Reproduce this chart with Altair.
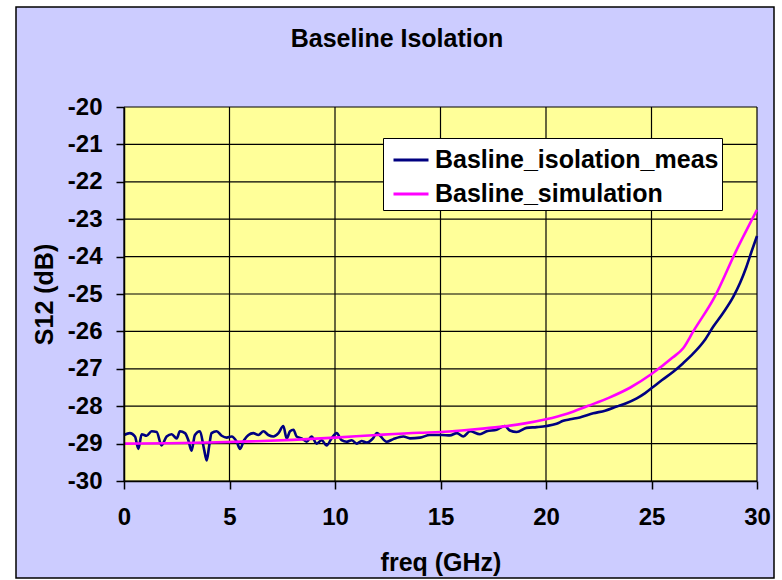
import altair as alt
import pandas as pd

# ---------------- data ----------------
meas_freq = [0.0, 0.28, 0.52, 0.68, 0.84, 1.07, 1.31, 1.55, 1.78, 2.02, 2.26, 2.5, 2.65, 2.89,
             3.05, 3.2, 3.36, 3.6, 3.79, 3.92, 4.04, 4.15, 4.39, 4.63, 4.87, 5.1, 5.34, 5.5,
             5.69, 5.9, 6.13, 6.37, 6.61, 6.84, 7.08, 7.32, 7.55, 7.71, 7.87, 8.03, 8.18, 8.42,
             8.66, 8.89, 9.13, 9.37, 9.6, 9.84, 10.08, 10.31, 10.55, 10.79, 11.03, 11.26, 11.5,
             11.8, 11.98, 12.45, 12.76, 13.24, 13.55, 14.03, 14.5, 15.06, 15.45, 15.77, 16.08,
             16.4, 16.87, 17.19, 17.66, 18.05, 18.29, 18.61, 19.08, 19.56, 20.03, 20.5, 20.82,
             21.14, 21.6, 22.24, 22.8, 23.35, 23.8, 24.3, 24.7, 25.09, 25.5, 26.03, 26.5, 26.98,
             27.5, 27.93, 28.4, 28.88, 29.2, 29.5, 29.75, 30.0]
meas_s12 = [-28.77, -28.72, -28.81, -29.14, -28.75, -28.79, -28.67, -28.69, -29.05, -28.81,
            -28.75, -28.86, -28.67, -28.72, -28.91, -29.19, -28.77, -28.67, -29.14, -29.45,
            -29.05, -28.72, -28.67, -28.79, -28.84, -28.81, -28.95, -29.14, -28.91, -28.77,
            -28.72, -28.77, -28.67, -28.77, -28.81, -28.72, -28.53, -28.86, -28.67, -28.63,
            -28.81, -28.86, -28.95, -28.81, -29.0, -28.91, -29.05, -28.86, -28.72, -28.91,
            -28.95, -28.91, -29.0, -28.93, -28.97, -28.86, -28.72, -28.95, -28.88, -28.81,
            -28.86, -28.84, -28.77, -28.77, -28.78, -28.72, -28.81, -28.67, -28.75, -28.67,
            -28.63, -28.53, -28.65, -28.69, -28.58, -28.56, -28.53, -28.47, -28.39, -28.35,
            -28.3, -28.19, -28.12, -28.01, -27.92, -27.79, -27.65, -27.48, -27.3, -27.08,
            -26.85, -26.59, -26.25, -25.87, -25.5, -25.07, -24.7, -24.27, -23.85, -23.45]

sim_freq = [0, 2, 4, 6, 8, 10, 12, 14, 15, 16, 17, 18, 19, 20, 21, 22, 23, 24, 25, 26, 26.5,
            27, 28, 29, 30]
sim_s12 = [-29.0, -28.99, -28.97, -28.94, -28.9, -28.84, -28.77, -28.71, -28.69, -28.65,
           -28.6, -28.54, -28.46, -28.35, -28.2, -27.99, -27.77, -27.5, -27.14, -26.7,
           -26.45, -25.98, -25.07, -23.86, -22.75]

series_names = ["Basline_isolation_meas", "Basline_simulation"]
series_colors = ["#000080", "#FF00FF"]
x_ticks = [0, 5, 10, 15, 20, 25, 30]
y_ticks = [-30, -29, -28, -27, -26, -25, -24, -23, -22, -21, -20]

df = pd.concat([
    pd.DataFrame({"freq": meas_freq, "s12": meas_s12, "series": series_names[0]}),
    pd.DataFrame({"freq": sim_freq, "s12": sim_s12, "series": series_names[1]}),
], ignore_index=True)

# ---------------- style ----------------
FONT = "Liberation Sans"
LAVENDER = "#CCCCFF"
YELLOW = "#FFFF99"
W, H = 633, 374

x_scale = alt.Scale(domain=[0, 30], nice=False, zero=False)
y_scale = alt.Scale(domain=[-30, -20], nice=False, zero=False)
x_axis = alt.Axis(values=x_ticks, title="freq (GHz)", labelExpr="'' + datum.value",
                  labelPadding=16, titlePadding=21, labelFlush=False, zindex=1)
y_axis = alt.Axis(values=y_ticks, title="S12 (dB)", labelExpr="'' + datum.value",
                  labelPadding=14, titlePadding=10, zindex=1)


def X(field=None, datum=None):
    if field is not None:
        return alt.X(field, type="quantitative", scale=x_scale, axis=x_axis)
    return alt.X(datum=datum, type="quantitative", scale=x_scale, axis=x_axis)


def Y(field=None, datum=None):
    if field is not None:
        return alt.Y(field, type="quantitative", scale=y_scale, axis=y_axis)
    return alt.Y(datum=datum, type="quantitative", scale=y_scale, axis=y_axis)


one = alt.Data(values=[{}])

frame = alt.Chart(one).mark_rect(fill=LAVENDER, stroke="black", strokeWidth=1.5).encode(
    x=alt.value(-108), x2=alt.value(650), y=alt.value(-100), y2=alt.value(471)
)

plot_bg = alt.Chart(one).mark_rect(fill=YELLOW).encode(
    x=X(datum=0), x2=alt.X2(datum=30), y=Y(datum=-30), y2=alt.Y2(datum=-20)
)

vgrid = alt.Chart(pd.DataFrame({"gx": x_ticks})).mark_rule(color="black", strokeWidth=1.2).encode(
    x=X("gx"), y=Y(datum=-30), y2=alt.Y2(datum=-20)
)
hgrid = alt.Chart(pd.DataFrame({"gy": y_ticks})).mark_rule(color="black", strokeWidth=1.2).encode(
    y=Y("gy"), x=X(datum=0), x2=alt.X2(datum=30)
)

lines = alt.Chart(df).mark_line(strokeWidth=2.6, interpolate="monotone").encode(
    x=X("freq"),
    y=Y("s12"),
    color=alt.Color(
        "series:N",
        scale=alt.Scale(domain=series_names, range=series_colors),
        legend=alt.Legend(
            title=None, orient="none", legendX=259, legendY=31, direction="vertical",
            fillColor="white", strokeColor="black", padding=3,
            symbolType="stroke", symbolSize=1225, symbolStrokeWidth=3, symbolOffset=6,
            labelOffset=5, labelFont=FONT, labelFontSize=25, labelFontWeight="bold",
            labelColor="black", rowPadding=2, labelLimit=500, zindex=1,
        ),
    ),
    detail="series:N",
)

chart = alt.layer(frame, plot_bg, vgrid, hgrid, lines).properties(
    width=W, height=H,
    title=alt.TitleParams(
        "Baseline Isolation", font=FONT, fontSize=25, fontWeight="bold", color="black",
        anchor="middle", dx=-43.5, dy=66, offset=0, baseline="alphabetic", zindex=1,
    ),
    padding={"left": 124, "top": 107, "right": 25, "bottom": 99},
    autosize=alt.AutoSizeParams(type="none"),
    background="white",
).configure_view(stroke=None).configure_axis(
    grid=False,
    domainColor="black", domainWidth=1.5,
    tickColor="black", tickWidth=1.5, tickSize=8,
    labelFont=FONT, labelFontSize=24, labelFontWeight="bold", labelColor="black",
    titleFont=FONT, titleFontSize=25, titleFontWeight="bold", titleColor="black",
)

chart.save("out.html", embed_options={"renderer": "svg", "actions": False})
